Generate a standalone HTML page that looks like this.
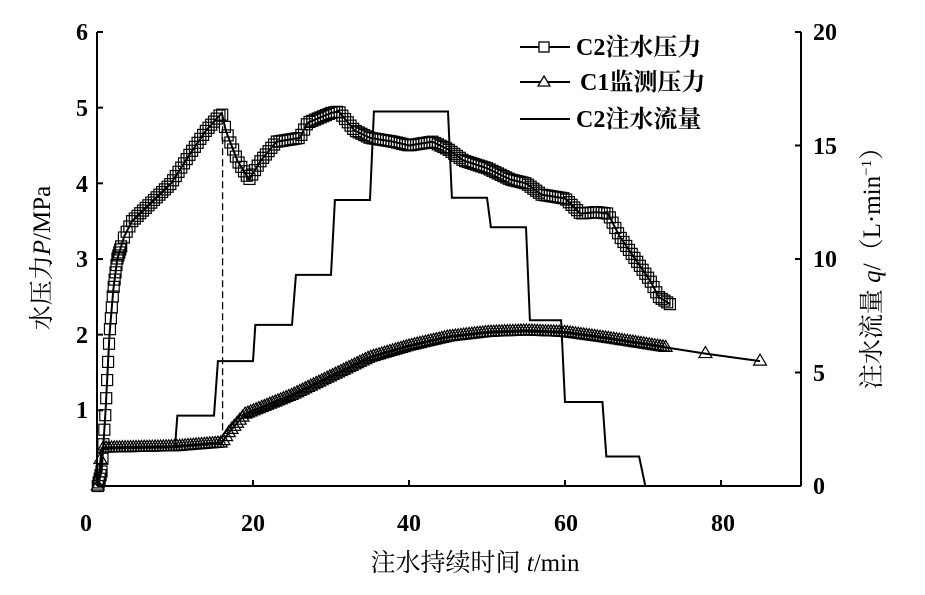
<!DOCTYPE html>
<html><head><meta charset="utf-8"><style>
html,body{margin:0;padding:0;background:#fff;}
svg{display:block;}
text{font-family:"Liberation Serif","Noto Serif CJK SC",serif;fill:#000;}
</style></head><body>
<svg id="s" width="925" height="595" viewBox="0 0 925 595" xmlns="http://www.w3.org/2000/svg">
<g stroke="#000" stroke-width="2" fill="none">
<line x1="97" y1="32" x2="97" y2="486"/>
<line x1="97" y1="486" x2="801" y2="486"/>
<line x1="801" y1="32" x2="801" y2="486"/>
</g>
<g id="ticks" stroke="#000" stroke-width="2"></g>
<g font-size="24" font-weight="bold" text-anchor="end">
<text x="88" y="40">6</text><text x="88" y="116">5</text><text x="88" y="192">4</text>
<text x="88" y="267">3</text><text x="88" y="343">2</text><text x="88" y="418">1</text>
</g>
<g font-size="24" font-weight="bold" text-anchor="start">
<text x="813" y="40">20</text><text x="813" y="154">15</text><text x="813" y="267">10</text>
<text x="813" y="381">5</text><text x="813" y="494">0</text>
</g>
<g font-size="24" font-weight="bold" text-anchor="middle">
<text x="86" y="531">0</text><text x="253" y="531">20</text><text x="409" y="531">40</text>
<text x="566" y="531">60</text><text x="723" y="531">80</text>
</g>
<text x="475" y="571" font-size="25" text-anchor="middle">注水持续时间 <tspan font-style="italic">t</tspan>/min</text>
<text transform="translate(50,258) rotate(-90)" font-size="25" text-anchor="middle">水压力<tspan font-style="italic">P</tspan>/MPa</text>
<text transform="translate(880,262) rotate(-90)" font-size="25" text-anchor="middle">注水流量 <tspan font-style="italic">q</tspan>/（L·min<tspan font-size="15" dy="-9">−1</tspan><tspan dy="9">）</tspan></text>
<g id="data"></g>
<g stroke="#000" stroke-width="2" fill="none">
<line x1="520" y1="47" x2="570" y2="47"/><rect x="539" y="42" width="10" height="10" fill="#fff" stroke-width="1.3"/>
<line x1="520" y1="82" x2="570" y2="82"/><polygon points="544,76 550,86 538,86" fill="#fff" stroke-width="1.3"/>
<line x1="520" y1="119" x2="570" y2="119"/>
</g>
<g font-size="24" font-weight="bold">
<text x="576" y="55">C2注水压力</text>
<text x="580" y="90">C1监测压力</text>
<text x="576" y="127">C2注水流量</text>
</g>
</svg>
<script>
const X=t=>97+t*7.8, YP=p=>486-p*75.67, YQ=q=>486-q*22.7;
let h='';
const tk=document.getElementById('ticks');
let tt='';
for(let i=0;i<=6;i++){tt+=`<line x1="97" y1="${YP(i)}" x2="103" y2="${YP(i)}"/>`;}
for(let i=0;i<=20;i+=5){tt+=`<line x1="795" y1="${YQ(i)}" x2="801" y2="${YQ(i)}"/>`;}
for(let i=20;i<=80;i+=20){tt+=`<line x1="${X(i)}" y1="480" x2="${X(i)}" y2="486"/>`;}
tk.innerHTML=tt;
const fl=[[0.2,0],[0.8,1.7],[10,1.7],[10.3,3.1],[15,3.1],[15.5,5.5],[20,5.5],[20.3,7.1],[25,7.1],[25.5,9.3],[30,9.3],[30.5,12.6],[35,12.6],[35.5,16.5],[45,16.5],[45.5,12.7],[50,12.7],[50.5,11.4],[55,11.4],[55.5,7.3],[59.5,7.3],[60,3.7],[64.8,3.7],[65.3,1.3],[69.5,1.3],[70.3,0]];
h+=`<polyline fill="none" stroke="#000" stroke-width="2" points="${fl.map(p=>X(p[0])+','+YQ(p[1])).join(' ')}"/>`;
h+=`<line x1="${X(16.1)}" y1="${YP(4.9)}" x2="${X(16.1)}" y2="${YP(0.55)}" stroke="#000" stroke-width="1.3" stroke-dasharray="7,4"/>`;
function interp(a,t){for(let i=0;i<a.length-1;i++){if(t>=a[i][0]&&t<=a[i+1][0]){const f=(t-a[i][0])/(a[i+1][0]-a[i][0]);return a[i][1]+f*(a[i+1][1]-a[i][1]);}}return a[a.length-1][1];}
const c2=[[0.1,0],[0.6,0.2],[1.1,1.0],[1.6,2.0],[2.1,2.6],[2.6,3.0],[3.5,3.3],[4.5,3.5],[7,3.75],[9.5,4.0],[12,4.4],[14,4.7],[16,4.93],[16.5,4.7],[18,4.3],[19.5,4.05],[21,4.3],[23,4.55],[26,4.6],[27,4.8],[30,4.93],[31,4.95],[33,4.7],[35,4.6],[38,4.55],[40,4.5],[43,4.55],[45,4.45],[47,4.3],[50,4.2],[53,4.05],[55,4.0],[57,3.85],[60,3.8],[62,3.6],[64,3.62],[65.5,3.6],[67,3.3],[69,3.0],[71,2.7],[72,2.5],[73.5,2.4]];
const c1=[[0.1,0],[0.6,0.5],[10,0.52],[16,0.57],[17,0.72],[19,0.95],[25,1.2],[30,1.45],[35,1.7],[40,1.85],[45,1.97],[50,2.03],[55,2.05],[60,2.03],[65,1.96],[70,1.88],[73,1.83],[78,1.75],[85,1.65]];
h+=`<polyline fill="none" stroke="#000" stroke-width="2" points="${c2.map(p=>X(p[0])+','+YP(p[1])).join(' ')}"/>`;
h+=`<polyline fill="none" stroke="#000" stroke-width="2" points="${c1.map(p=>X(p[0])+','+YP(p[1])).join(' ')}"/>`;
let m='';
for(let t=0.1;t<=73.5;t+=(t<3?0.12:0.35)){const x=X(t),y=YP(interp(c2,t));m+=`<rect x="${x-5.5}" y="${y-5.5}" width="11" height="11"/>`;}
for(let t=0.1;t<=73;t+=0.35){const x=X(t),y=YP(interp(c1,t));m+=`<polygon points="${x},${y-7} ${x+6.5},${y+4} ${x-6.5},${y+4}"/>`;}
for(const t of [78,85]){const x=X(t),y=YP(interp(c1,t));m+=`<polygon points="${x},${y-7} ${x+6.5},${y+4} ${x-6.5},${y+4}"/>`;}
h+=`<g fill="none" stroke="#000" stroke-width="1.2">${m}</g>`;
document.getElementById('data').innerHTML=h;
</script>
</body></html>
